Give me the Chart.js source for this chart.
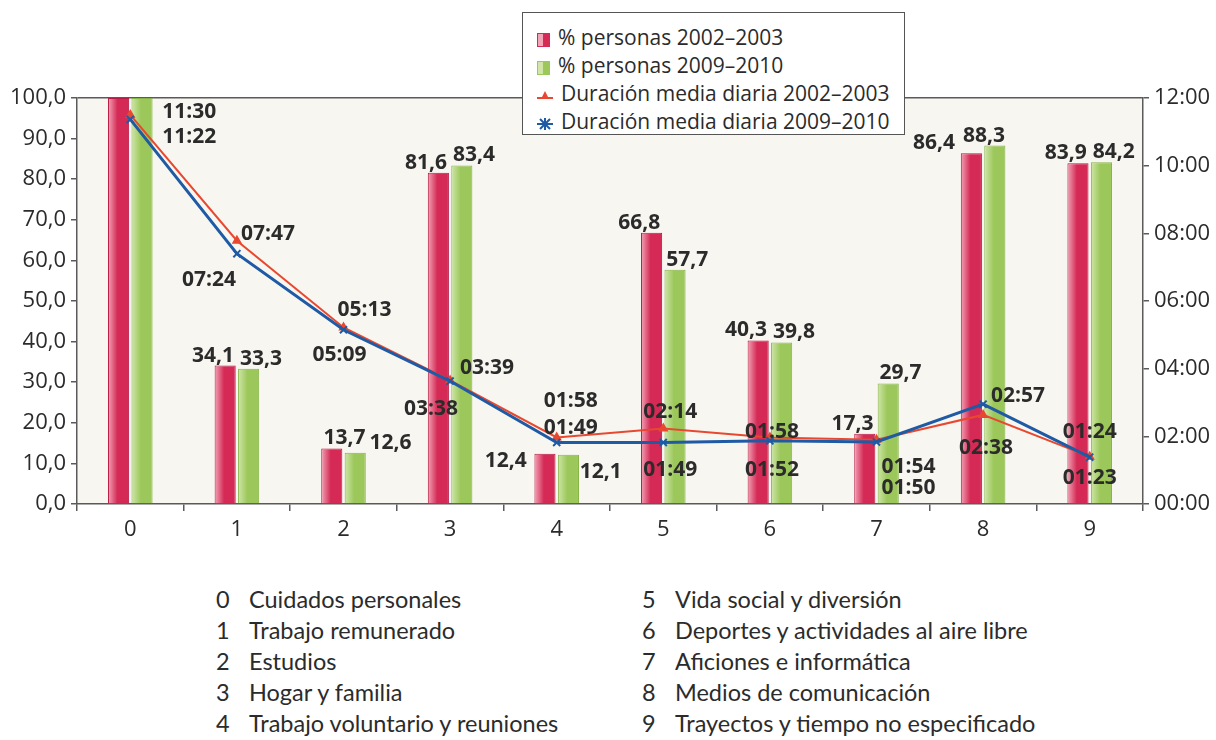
<!DOCTYPE html>
<html>
<head>
<meta charset="utf-8">
<script src="https://cdn.jsdelivr.net/npm/chart.js@4.4.1/dist/chart.umd.min.js"></script>
<style>
  body { margin: 0; background: #fff; width: 1216px; height: 740px; position: relative; overflow: hidden;
         font-family: "Open Sans", sans-serif; color: #2b2b2b; }
  #wrap { position: absolute; left: 0; top: 0; width: 1216px; height: 560px; }
  #legend { position: absolute; left: 522px; top: 12px; width: 383px; height: 123px; box-sizing: border-box;
            border: 1px solid #555; background: #fff; padding: 10px 0 0 14px; font-size: 21px; }
  #legend div { height: 28px; line-height: 28px; white-space: nowrap; }
  #legend svg { vertical-align: -2px; margin-right: 8px; }
  .list { position: absolute; font-family: Lato, sans-serif; font-size: 23.5px; color: #2b2b2b; }
  .list div { height: 31px; line-height: 31px; white-space: nowrap; }
  .list span { display: inline-block; width: 33px; }
</style>
</head>
<body>
<div id="wrap"><canvas id="grafico"></canvas></div>

<div id="legend"></div>
<div class="list" id="col1" style="left:216px;top:584px"></div>
<div class="list" id="col2" style="left:642px;top:584px"></div>

<script>
// categorias (eje X) y su descripcion
const categorias = ["0", "1", "2", "3", "4", "5", "6", "7", "8", "9"];
const actividades = [
  "Cuidados personales", "Trabajo remunerado", "Estudios", "Hogar y familia",
  "Trabajo voluntario y reuniones", "Vida social y diversión",
  "Deportes y actividades al aire libre", "Aficiones e informática",
  "Medios de comunicación", "Trayectos y tiempo no especificado"
];

// % de personas que realizan la actividad
const pct0203 = [100.0, 34.1, 13.7, 81.6, 12.4, 66.8, 40.3, 17.3, 86.4, 83.9];
const pct0910 = [100.0, 33.3, 12.6, 83.4, 12.1, 57.7, 39.8, 29.7, 88.3, 84.2];

// duracion media diaria (hh:mm)
const dur0203 = ["11:30", "07:47", "05:13", "03:39", "01:58", "02:14", "01:58", "01:54", "02:38", "01:24"];
const dur0910 = ["11:22", "07:24", "05:09", "03:38", "01:49", "01:49", "01:52", "01:50", "02:57", "01:23"];

// ticks del eje derecho (horas)
const horasTicks = [0, 2, 4, 6, 8, 10, 12];

const nombres = ["% personas 2002–2003", "% personas 2009–2010",
                 "Duración media diaria 2002–2003", "Duración media diaria 2009–2010"];

// desplazamientos de las etiquetas (solo colocacion del texto)
const barLabelShift = {
  red:   { 2: [25, 0], 4: [-27, 17], 8: [-25, 0] },
  green: { 2: [23, 0], 4: [20, 27], 8: [-23, 0] }
};
const timeLabelShift = {
  red:  [[59, -3], [31, -7], [21, -17], [37, -12], [14, -36], [7, -16], [2, -5], [32, 27], [3, 33], [0, -25]],
  blue: [[59, 18], [-28, 26], [-4, 25], [-19, 28], [14, -15], [7, 27], [2, 29], [32, 46], [35, -8], [0, 21]]
};

const toHoras = (s) => { const p = s.split(":"); return parseInt(p[0]) + parseInt(p[1]) / 60; };
const fmtPct = (v) => v.toFixed(1).replace(".", ",");
const fmtHora = (h) => String(Math.round(h)).padStart(2, "0") + ":00";

const RED = "#d42a55", RED_LIGHT = "#f2a3b6";
const GREEN = "#9cc75b", GREEN_LIGHT = "#cfe6a8";
const LINE_RED = "#e8482f", LINE_BLUE = "#1f5aa5";
const TXT = "#2b2b2b", AXIS = "#5a5a5a";

//Leyenda y lista en HTML
const svgBar = (c1, c2) => `<svg width="13" height="14"><rect x="0.5" y="0.5" width="12" height="13" fill="${c2}" stroke="${c1}"/><rect x="6" y="1" width="6" height="12" fill="${c1}"/></svg>`;
const svgRed = `<svg width="16" height="14"><line x1="0" y1="9" x2="16" y2="9" stroke="${LINE_RED}" stroke-width="2"/><polygon points="8,2 12,10 8,8 4,10" fill="${LINE_RED}"/></svg>`;
const svgBlue = `<svg width="16" height="14"><line x1="0" y1="7" x2="16" y2="7" stroke="${LINE_BLUE}" stroke-width="2"/><path d="M3,2 L13,12 M13,2 L3,12 M8,1 L8,13" stroke="${LINE_BLUE}" stroke-width="2"/></svg>`;
const iconos = [svgBar(RED, RED_LIGHT), svgBar(GREEN, GREEN_LIGHT), svgRed, svgBlue];
document.getElementById("legend").innerHTML =
  nombres.map((n, i) => `<div>${iconos[i]}${n}</div>`).join("");
document.getElementById("col1").innerHTML =
  actividades.slice(0, 5).map((a, i) => `<div><span>${categorias[i]}</span>${a}</div>`).join("");
document.getElementById("col2").innerHTML =
  actividades.slice(5).map((a, i) => `<div><span>${categorias[i + 5]}</span>${a}</div>`).join("");

//Relleno con degradado para las barras
function barFill(light, dark) {
  return (c) => {
    const chart = c.chart;
    const el = chart.getDatasetMeta(c.datasetIndex).data[c.dataIndex];
    if (!el || !el.width) return dark;
    const g = chart.ctx.createLinearGradient(el.x - el.width / 2, 0, el.x + el.width / 2, 0);
    g.addColorStop(0, light);
    g.addColorStop(0.45, dark);
    g.addColorStop(1, dark);
    return g;
  };
}

//Fondo del area del grafico
const fondo = {
  id: "fondo",
  beforeDraw(chart) {
    const a = chart.chartArea, ctx = chart.ctx;
    ctx.save();
    ctx.fillStyle = "#f8f6f1";
    ctx.fillRect(a.left, a.top, a.right - a.left, a.bottom - a.top);
    ctx.restore();
  }
};

//Etiquetas de valores
const etiquetas = {
  id: "etiquetas",
  afterDatasetsDraw(chart) {
    const ctx = chart.ctx;
    const top = chart.chartArea.top;
    const mR = chart.getDatasetMeta(0), mG = chart.getDatasetMeta(1);
    const lR = chart.getDatasetMeta(2), lB = chart.getDatasetMeta(3);
    ctx.save();
    ctx.font = 'bold 21px "Open Sans"';
    ctx.fillStyle = TXT;
    ctx.textBaseline = "alphabetic";
    categorias.forEach((c, i) => {
      const r = mR.data[i], g = mG.data[i];
      const mid = (r.x + g.x) / 2;
      const sr = barLabelShift.red[i] || [0, 0];
      const sg = barLabelShift.green[i] || [0, 0];
      if (r.y > top + 20) {
        ctx.textAlign = "right";
        ctx.fillText(fmtPct(pct0203[i]), mid - 3 + sr[0], r.y - 4 + sr[1]);
      }
      if (g.y > top + 20) {
        ctx.textAlign = "left";
        ctx.fillText(fmtPct(pct0910[i]), mid + 3 + sg[0], g.y - 4 + sg[1]);
      }
    });
    ctx.textAlign = "center";
    ctx.textBaseline = "middle";
    categorias.forEach((c, i) => {
      const pr = lR.data[i], pb = lB.data[i];
      const tr = timeLabelShift.red[i], tb = timeLabelShift.blue[i];
      ctx.fillText(dur0203[i], pr.x + tr[0], pr.y + tr[1]);
      ctx.fillText(dur0910[i], pb.x + tb[0], pb.y + tb[1]);
    });
    ctx.restore();
  }
};

const tickFont = { family: "Open Sans", size: 22 };

const chart = new Chart("grafico", {
  data: {
    labels: categorias,
    datasets: [
      { type: "bar", label: nombres[0], data: pct0203, yAxisID: "y", order: 2,
        backgroundColor: barFill(RED_LIGHT, RED), borderColor: "#b81b45", borderWidth: 1,
        categoryPercentage: 0.44, barPercentage: 0.9 },
      { type: "bar", label: nombres[1], data: pct0910, yAxisID: "y", order: 3,
        backgroundColor: barFill(GREEN_LIGHT, GREEN), borderColor: "#86b444", borderWidth: 1,
        categoryPercentage: 0.44, barPercentage: 0.9 },
      { type: "line", label: nombres[2], data: dur0203.map(toHoras), yAxisID: "y1", order: 1,
        borderColor: LINE_RED, borderWidth: 2, pointStyle: "triangle", pointRadius: 4,
        pointBackgroundColor: LINE_RED, pointBorderColor: LINE_RED, tension: 0 },
      { type: "line", label: nombres[3], data: dur0910.map(toHoras), yAxisID: "y1", order: 0,
        borderColor: LINE_BLUE, borderWidth: 3, pointStyle: "crossRot", pointRadius: 5,
        pointBorderWidth: 2, pointBorderColor: LINE_BLUE, tension: 0 }
    ]
  },
  options: {
    responsive: true,
    maintainAspectRatio: false,
    animation: false,
    layout: { padding: { top: 98, left: 0, right: 0, bottom: 0 } },
    plugins: { legend: { display: false }, tooltip: { enabled: false } },
    scales: {
      x: {
        grid: { drawOnChartArea: false, offset: true, tickLength: 7, color: AXIS, lineWidth: 1.5 },
        border: { color: AXIS, width: 1.5 },
        ticks: { font: tickFont, color: TXT, padding: 6 },
        afterFit: (s) => { s.height = 56; }
      },
      y: {
        position: "left", min: 0, max: 100,
        grid: { drawOnChartArea: true, tickLength: 6, tickColor: AXIS,
                color: (c) => (c.tick && c.tick.value === 100 ? AXIS : "rgba(0,0,0,0)"), lineWidth: 1.5 },
        border: { color: AXIS, width: 1.5 },
        ticks: { stepSize: 10, font: tickFont, color: TXT, padding: 5, callback: (v) => fmtPct(v) },
        afterFit: (s) => { s.width = 77; }
      },
      y1: {
        position: "right", min: 0, max: 12,
        grid: { drawOnChartArea: false, tickLength: 6, color: AXIS, lineWidth: 1.5 },
        border: { color: AXIS, width: 1.5 },
        afterBuildTicks: (s) => { s.ticks = horasTicks.map((v) => ({ value: v })); },
        ticks: { font: tickFont, color: TXT, padding: 5, callback: (v) => fmtHora(v) },
        afterFit: (s) => { s.width = 73; }
      }
    }
  },
  plugins: [fondo, etiquetas]
});

chart.update();
</script>
</body>
</html>
